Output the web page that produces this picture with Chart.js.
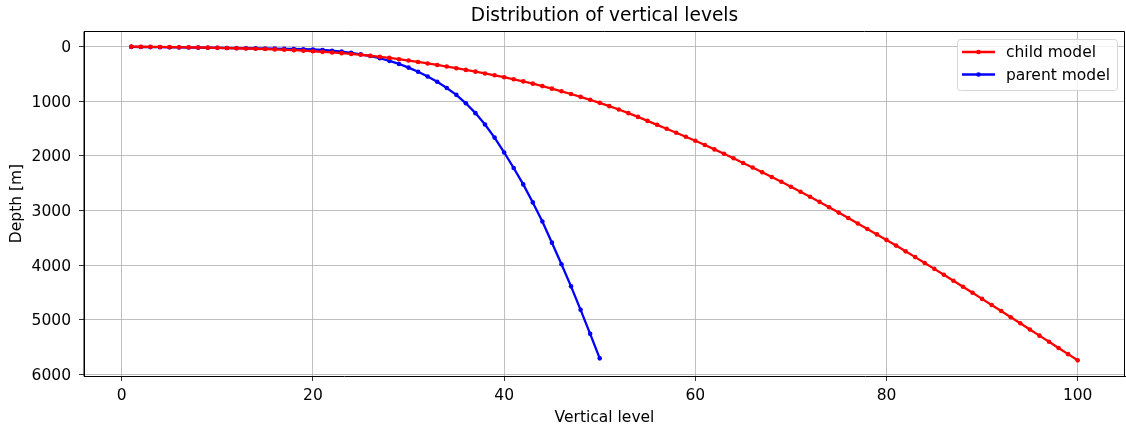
<!DOCTYPE html>
<html lang="en">
<head>
<meta charset="UTF-8" />
<title>Distribution of vertical levels</title>
<script src="https://cdn.jsdelivr.net/npm/chart.js"></script>
<style>
  html, body { margin: 0; padding: 0; background: #fff; }
  canvas { display: block; }
</style>
</head>
<body>
<canvas id="levels" width="1126" height="430"></canvas>
<script>
  // depths [m], one per vertical level
  const childDepth = [
    1, 2.5, 4, 6, 8, 10.5, 13, 16, 19, 22,
    26, 30, 34.5, 39.5, 45, 51, 58, 66, 75, 85,
    95.5, 107, 120, 134, 150, 167, 186, 207, 230, 255,
    281, 308, 336, 365, 395, 426, 458, 491, 525, 560,
    598, 637, 678, 723, 770, 818, 868, 920, 974, 1030,
    1090, 1152, 1218, 1287, 1360, 1432, 1505, 1578, 1651, 1725,
    1803, 1882, 1962, 2045, 2130, 2215, 2301, 2388, 2476, 2565,
    2657, 2750, 2844, 2941, 3040, 3139, 3239, 3339, 3439, 3540,
    3644, 3749, 3855, 3962, 4070, 4178, 4287, 4397, 4508, 4620,
    4731, 4843, 4955, 5067, 5180, 5293, 5406, 5519, 5632, 5745
  ];
  const parentDepth = [
    5, 7, 9, 11, 13, 15, 17, 19, 21, 23,
    25, 27, 29.5, 32, 34.5, 37, 40, 43, 47, 52,
    62, 75, 92, 113, 140, 173, 213, 261, 317, 384,
    460, 546, 644, 757, 883, 1038, 1218, 1426, 1666, 1938,
    2223, 2523, 2853, 3203, 3590, 3985, 4390, 4820, 5260, 5709
  ];
  const childLevels = childDepth.map((d, i) => i + 1);
  const parentLevels = parentDepth.map((d, i) => i + 1);

  const xTicks = [0, 20, 40, 60, 80, 100];
  const yTicks = [0, 1000, 2000, 3000, 4000, 5000, 6000];
  const seriesNames = ['child model', 'parent model'];
  const seriesColors = ['#ff0000', '#0000ff'];

  const FONT = 'DejaVu Sans';
  const TICK_SIZE = 15.5;

  function toPoints(xs, ys) {
    return xs.map((x, i) => ({ x: x, y: ys[i] }));
  }

  // title, top/right spines and the in-axes legend, drawn like matplotlib does
  const extras = {
    id: 'extras',
    afterDraw(chart) {
      const ctx = chart.ctx;
      const a = chart.chartArea;
      ctx.save();

      ctx.strokeStyle = '#000';
      ctx.lineWidth = 1;
      ctx.beginPath();
      ctx.moveTo(a.left, a.bottom + 0.5);
      ctx.lineTo(a.left, a.top + 0.5);
      ctx.lineTo(a.right - 0.5, a.top + 0.5);
      ctx.lineTo(a.right - 0.5, a.bottom + 0.5);
      ctx.stroke();

      ctx.fillStyle = '#000';
      ctx.font = '18.6px "' + FONT + '"';
      ctx.textAlign = 'center';
      ctx.textBaseline = 'middle';
      ctx.fillText('Distribution of vertical levels', (a.left + a.right) / 2, 16);

      // legend box
      const bx = 957, by = 39, bw = 160, bh = 51;
      ctx.beginPath();
      ctx.roundRect(bx + 0.5, by + 0.5, bw, bh, 3);
      ctx.fillStyle = 'rgba(255,255,255,0.8)';
      ctx.fill();
      ctx.strokeStyle = '#d6d6d6';
      ctx.lineWidth = 1;
      ctx.stroke();

      ctx.font = TICK_SIZE + 'px "' + FONT + '"';
      ctx.textAlign = 'left';
      seriesNames.forEach((name, i) => {
        const y = 52 + i * 22.5;
        ctx.strokeStyle = seriesColors[i];
        ctx.lineWidth = 2.3;
        ctx.beginPath();
        ctx.moveTo(962, y);
        ctx.lineTo(995, y);
        ctx.stroke();
        ctx.fillStyle = seriesColors[i];
        ctx.beginPath();
        ctx.arc(978.5, y, 2.3, 0, Math.PI * 2);
        ctx.fill();
        ctx.fillStyle = '#000';
        ctx.fillText(name, 1006, y + 1);
      });
      ctx.restore();
    }
  };

  function noPad(scale) {
    scale.paddingLeft = 0;
    scale.paddingRight = 0;
    scale.paddingTop = 0;
    scale.paddingBottom = 0;
  }

  const ctx = document.getElementById('levels').getContext('2d');
  new Chart(ctx, {
    type: 'line',
    data: {
      datasets: [
        {
          label: seriesNames[0],
          data: toPoints(childLevels, childDepth),
          borderColor: seriesColors[0],
          backgroundColor: seriesColors[0],
          borderWidth: 2.3,
          pointRadius: 2.3,
          pointBorderWidth: 0,
          fill: false,
          tension: 0
        },
        {
          label: seriesNames[1],
          data: toPoints(parentLevels, parentDepth),
          borderColor: seriesColors[1],
          backgroundColor: seriesColors[1],
          borderWidth: 2.3,
          pointRadius: 2.3,
          pointBorderWidth: 0,
          fill: false,
          tension: 0
        }
      ]
    },
    options: {
      responsive: false,
      animation: false,
      layout: { autoPadding: false, padding: { top: 31, right: 1, left: 0, bottom: 0 } },
      plugins: {
        legend: { display: false },
        title: { display: false },
        tooltip: { enabled: false }
      },
      scales: {
        x: {
          type: 'linear',
          min: -3.95,
          max: 104.95,
          afterBuildTicks: (scale) => { scale.ticks = xTicks.map(v => ({ value: v })); },
          afterFit: (scale) => { scale.height = 54; noPad(scale); },
          ticks: {
            color: '#000',
            font: { family: FONT, size: TICK_SIZE },
            padding: 6,
            maxRotation: 0,
            callback: (v) => String(v)
          },
          grid: { color: '#b0b0b0', lineWidth: 0.8, tickColor: '#000', tickLength: 5 },
          border: { color: '#000', width: 1 },
          title: {
            display: true,
            text: 'Vertical level',
            color: '#000',
            font: { family: FONT, size: TICK_SIZE },
            padding: { top: 0, bottom: 3 }
          }
        },
        y: {
          type: 'linear',
          reverse: true,
          min: -286,
          max: 6032,
          afterBuildTicks: (scale) => { scale.ticks = yTicks.map(v => ({ value: v })); },
          afterFit: (scale) => { scale.width = 84; noPad(scale); },
          ticks: {
            color: '#000',
            font: { family: FONT, size: TICK_SIZE },
            padding: 8,
            labelOffset: 1.5,
            callback: (v) => String(v)
          },
          grid: { color: '#b0b0b0', lineWidth: 0.8, tickColor: '#000', tickLength: 5 },
          border: { color: '#000', width: 1 },
          title: {
            display: true,
            text: 'Depth [m]',
            color: '#000',
            font: { family: FONT, size: TICK_SIZE },
            padding: { top: 8, bottom: 0 }
          }
        }
      }
    },
    plugins: [extras]
  });
</script>
</body>
</html>
